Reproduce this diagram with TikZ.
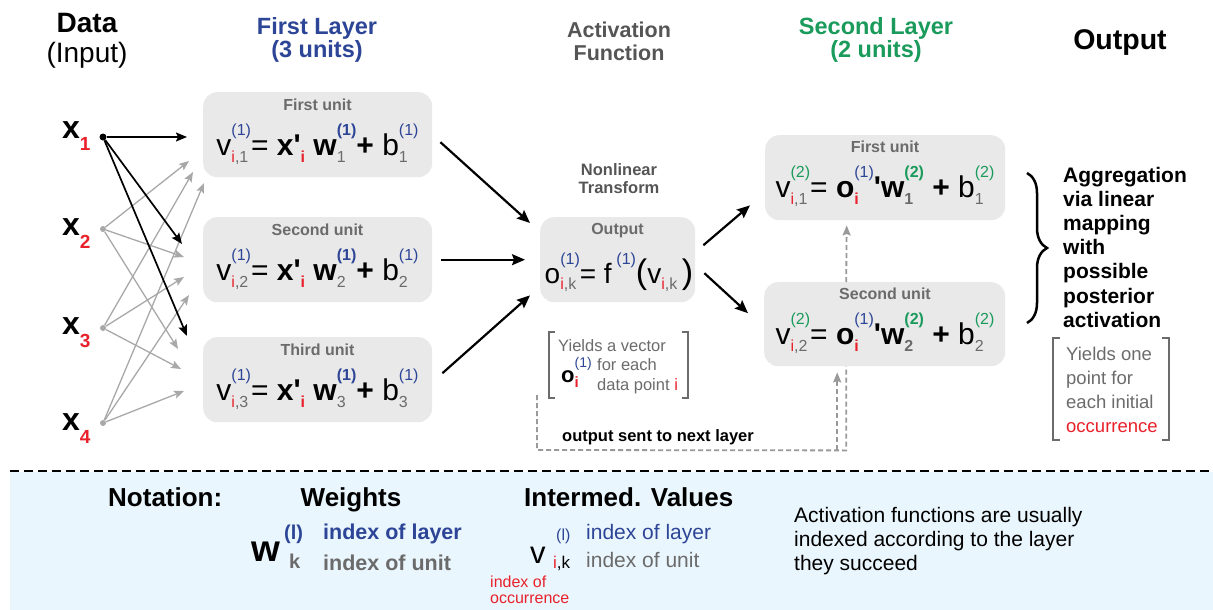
\documentclass[tikz,border=0pt]{standalone}
\usepackage{fontspec}
\setmainfont{Liberation Sans}
\newfontfamily\apf{Liberation Sans}
\usetikzlibrary{arrows.meta,decorations.pathreplacing}
\definecolor{cblue}{HTML}{2D4596}
\definecolor{cgreen}{HTML}{1A9B5C}
\definecolor{cred}{HTML}{E8212B}
\definecolor{cgray}{HTML}{6B6B6B}
\definecolor{hgray}{HTML}{555555}
\definecolor{boxfill}{HTML}{E9E9E9}
\definecolor{notebg}{HTML}{EAF6FD}
\definecolor{agray}{HTML}{A8A8A8}
\definecolor{dgray}{HTML}{999999}
\newcommand{\fsz}[1]{\fontsize{#1}{#1}\selectfont}
\newcommand{\ssz}{\fsz{16}}
\newcommand{\supsub}[2]{\setbox1=\hbox{{#1}}\setbox2=\hbox{{#2}}%
  \ifdim\wd1>\wd2\relax\dimen0=\wd1\else\dimen0=\wd2\fi
  \rlap{\raisebox{0.66em}{\copy1}}\rlap{\raisebox{-0.24em}{\copy2}}\kern\dimen0\relax}
\newcommand{\apos}{{\apf\bfseries '}}
\newcommand{\eqone}[1]{v\supsub{\ssz\color{cblue}(1)}{\ssz\textcolor{cred}{i}\textcolor{cgray}{,#1}}= \textbf{x\apos}\supsub{}{\ssz\bfseries\color{cred}i} \textbf{w}\supsub{\ssz\bfseries\color{cblue}(1)}{\ssz\color{cgray}#1}\textbf{+} b\supsub{\ssz\color{cblue}(1)}{\ssz\color{cgray}#1}}
\newcommand{\eqtwo}[1]{v\supsub{\ssz\color{cgreen}(2)}{\ssz\textcolor{cred}{i}\textcolor{cgray}{,#1}}= \textbf{o}\supsub{\ssz\color{cblue}(1)}{\ssz\bfseries\color{cred}i}\textbf{\apos w}\supsub{\ssz\bfseries\color{cgreen}(2)}{\ssz\bfseries\color{cgray}#1} \textbf{+} b\supsub{\ssz\color{cgreen}(2)}{\ssz\color{cgray}#1}}
\newcommand{\eqout}{o\supsub{\ssz\color{cblue}(1)}{\ssz\textcolor{cred}{i}\textcolor{cgray}{,k}}= f\,\supsub{\ssz\color{cblue}(1)}{}{\fsz{34}(}v\supsub{}{\ssz\textcolor{cred}{i}\textcolor{cgray}{,k}}\,{\fsz{34})}}
\begin{document}
\begin{tikzpicture}[x=1pt,y=-1pt,
  box/.style={fill=boxfill, rounded corners=14pt, draw=none, inner sep=0pt, anchor=north west},
  ulabel/.style={font=\fsz{16}\bfseries, text=cgray, inner sep=0pt},
  eqn/.style={font=\fsz{30}, inner sep=0pt, anchor=base},
  head/.style={inner sep=0pt, anchor=base},
  txt/.style={inner sep=0pt, anchor=base west},
  blk/.style={line width=2.2pt, -{Stealth[length=13pt,width=11pt,inset=2pt]}},
  bthin/.style={line width=1.7pt, black, -{Stealth[length=11pt,width=9pt,inset=2pt]}},
  gry/.style={line width=1.3pt, agray, -{Stealth[length=10pt,width=8pt,inset=2pt]}},
  gdash/.style={line width=1.8pt, dgray, dash pattern=on 5pt off 3pt},
  brk/.style={line width=1.4pt, cgray},
  dot/.style={circle, inner sep=0pt, minimum size=7pt},
]
\useasboundingbox (0,0) rectangle (1213,610);
% notation background
\fill[notebg] (10,472) rectangle (1213,610);
\draw[line width=2.5pt, dash pattern=on 9pt off 5pt] (10,471) -- (1213,471);

% headings
\node[head, font=\fsz{28}\bfseries] (hdata) at (87,33) {Data};
\node[head, font=\fsz{28}] (hinput) at (87,63) {(Input)};
\node[head, font=\fsz{23.5}\bfseries, text=cblue] (hfl1) at (317,35) {First Layer};
\node[head, font=\fsz{23.5}\bfseries, text=cblue] (hfl2) at (317,58) {(3 units)};
\node[head, font=\fsz{21.5}\bfseries, text=hgray] (haf1) at (619,38) {Activation};
\node[head, font=\fsz{21.5}\bfseries, text=hgray] (haf2) at (619,60) {Function};
\node[head, font=\fsz{23.5}\bfseries, text=cgreen] (hsl1) at (876,35) {Second Layer};
\node[head, font=\fsz{23.5}\bfseries, text=cgreen] (hsl2) at (876,58) {(2 units)};
\node[head, font=\fsz{28.5}\bfseries] (hout) at (1120,50) {Output};

% inputs
\node[dot, fill=black] (d1) at (103,137) {};
\node[dot, fill=agray, minimum size=6pt] (d2) at (103,229) {};
\node[dot, fill=agray, minimum size=6pt] (d3) at (103,328) {};
\node[dot, fill=agray, minimum size=6pt] (d4) at (103,423) {};
\node[txt, font=\fsz{32}\bfseries] (x1) at (62,138) {x\raisebox{-13pt}{\fsz{19}\color{cred}1}};
\node[txt, font=\fsz{32}\bfseries] (x2) at (62,235) {x\raisebox{-13pt}{\fsz{19}\color{cred}2}};
\node[txt, font=\fsz{32}\bfseries] (x3) at (62,334) {x\raisebox{-13pt}{\fsz{19}\color{cred}3}};
\node[txt, font=\fsz{32}\bfseries] (x4) at (62,430) {x\raisebox{-13pt}{\fsz{19}\color{cred}4}};

\coordinate (t11) at (187,137);
\coordinate (t12) at (182,244);
\coordinate (t13) at (187,336);
\coordinate (t21) at (189,161);
\coordinate (t31) at (193,172);
\coordinate (t41) at (204,183);
\coordinate (t22) at (184,257);
\coordinate (t32) at (184,277);
\coordinate (t42) at (189,295);
\coordinate (t23) at (178,349);
\coordinate (t33) at (181,369);
\coordinate (t43) at (184,391);

\draw[gry] (d2) -- (t21);
\draw[gry] (d3) -- (t31);
\draw[gry] (d4) -- (t41);
\draw[gry] (d2) -- (t22);
\draw[gry] (d3) -- (t32);
\draw[gry] (d4) -- (t42);
\draw[gry] (d2) -- (t23);
\draw[gry] (d3) -- (t33);
\draw[gry] (d4) -- (t43);
\draw[bthin] (d1) -- (t11);
\draw[bthin] (d1) -- (t12);
\draw[bthin] (d1) -- (t13);

% first layer
\node[box, minimum width=229pt, minimum height=85pt] (u1) at (203,92) {};
\node[box, minimum width=229pt, minimum height=85pt] (u2) at (203,217) {};
\node[box, minimum width=229pt, minimum height=85pt] (u3) at (203,337) {};
\node[ulabel] (u1l) at (317.5,105) {First unit};
\node[ulabel] (u2l) at (317.5,230) {Second unit};
\node[ulabel] (u3l) at (317.5,350) {Third unit};
\node[eqn] (u1e) at (317.5,155) {\eqone{1}};
\node[eqn] (u2e) at (317.5,280) {\eqone{2}};
\node[eqn] (u3e) at (317.5,400) {\eqone{3}};

% activation
\node[head, font=\fsz{16.5}\bfseries, text=hgray] (nl1) at (619,175) {Nonlinear};
\node[head, font=\fsz{16.5}\bfseries, text=hgray] (nl2) at (619,193) {Transform};
\node[box, minimum width=155pt, minimum height=85pt] (ob) at (540,217) {};
\node[ulabel] (obl) at (617.5,231) {Output};
\node[eqn, font=\fsz{28}] (obe) at (619,283) {\eqout};

\draw[brk] (555,332) -- (549,332) -- (549,398) -- (555,398);
\draw[brk] (682,332) -- (688,332) -- (688,398) -- (682,398);
\node[txt, font=\fsz{16.5}, text=cgray] (yv1) at (558,351) {Yields a vector};
\node[txt, font=\fsz{16.5}, text=cgray] (yv2) at (597,370) {for each};
\node[txt, font=\fsz{16.5}, text=cgray] (yv3) at (597,390) {data point \textcolor{cred}{i}};
\node[txt, font=\fsz{22}] (yvo) at (561,382) {\textbf{o}\supsub{\fsz{14}\color{cblue}(1)}{\fsz{15}\bfseries\color{cred}i}};

% second layer
\node[box, minimum width=240pt, minimum height=85pt] (s1) at (765,135) {};
\node[box, minimum width=241pt, minimum height=84pt] (s2) at (764,282) {};
\node[ulabel] (s1l) at (885,147) {First unit};
\node[ulabel] (s2l) at (885,294) {Second unit};
\node[eqn] (s1e) at (885,197) {\eqtwo{1}};
\node[eqn] (s2e) at (885,344) {\eqtwo{2}};

% main arrows
\draw[blk] ([shift={(8,7.5)}]u1.east) -- ([shift={(-10,6)}]ob.north west);
\draw[blk] ([shift={(9,0)}]u2.east) -- ([shift={(-15,0)}]ob.west);
\draw[blk] ([shift={(10,-6.5)}]u3.east) -- ([shift={(-10,-7)}]ob.south west);
\draw[blk] ([shift={(8,-14.5)}]ob.east) -- ([shift={(-15,-15)}]s1.south west);
\draw[blk] ([shift={(9,13.5)}]ob.east) -- ([shift={(-16,-11)}]s2.west);

% dashed feedback
\coordinate (dstart) at (537,395);
\draw[gdash] (dstart) -- (537,450) -- ([shift={(-38.5,84)}]s2.south) -- ([shift={(-38.5,0)}]s2.south);
\draw[gdash, -{Stealth[length=10pt,width=8pt,inset=1.5pt]}] ([shift={(-47.5,84)}]s2.south) -- ([shift={(-47.5,6)}]s2.south);
\draw[gdash, -{Stealth[length=10pt,width=8pt,inset=1.5pt]}] ([shift={(-38.5,0)}]s2.north) -- ([shift={(-38.5,5)}]s1.south);
\node[txt, font=\fsz{16.5}\bfseries] (osnl) at (562,441) {output sent to next layer};

% output side
\draw[line width=2.5pt, decorate, decoration={brace, amplitude=20pt}] (1027,173) -- (1027,323);
\foreach \t [count=\k] in {Aggregation, via linear, mapping, with, possible, posterior, activation}
  \node[txt, font=\fsz{21}\bfseries] (agg\k) at (1063, {182+(\k-1)*24.2}) {\t};
\draw[brk] (1060,338) -- (1053,338) -- (1053,440) -- (1060,440);
\draw[brk] (1162,338) -- (1169,338) -- (1169,440) -- (1162,440);
\node[txt, font=\fsz{18.5}, text=cgray] (yo1) at (1066,360) {Yields one};
\node[txt, font=\fsz{18.5}, text=cgray] (yo2) at (1066,384) {point for};
\node[txt, font=\fsz{18.5}, text=cgray] (yo3) at (1066,408) {each initial};
\node[txt, font=\fsz{18.5}, text=cred] (yo4) at (1066,432) {occurrence};

% notation
\node[txt, font=\fsz{26}\bfseries] (nt) at (108,506) {Notation:};
\node[head, font=\fsz{26}\bfseries] (nw) at (351,506) {Weights};
\node[txt, font=\fsz{26}\bfseries] (ni) at (524,506) {Intermed. Values};
\node[txt, font=\fsz{37}\bfseries] (wsym) at (251,561) {w};
\node[txt, font=\fsz{20}\bfseries, text=cblue] (wl) at (284,539) {(l)};
\node[txt, font=\fsz{20}\bfseries, text=cgray] (wk) at (289,568) {k};
\node[txt, font=\fsz{21.5}\bfseries, text=cblue] (wil) at (323,539) {index of layer};
\node[txt, font=\fsz{21.5}\bfseries, text=cgray] (wiu) at (323,570) {index of unit};
\node[txt, font=\fsz{31}] (vsym) at (530,563) {v};
\node[txt, font=\fsz{16}, text=cblue] (vl) at (556,540) {(l)};
\node[txt, font=\fsz{17}] (vik) at (553,568) {\textcolor{cred}{i},k};
\node[txt, font=\fsz{21}, text=cblue] (vil) at (586,539) {index of layer};
\node[txt, font=\fsz{21}, text=cgray] (viu) at (586,567) {index of unit};
\node[txt, font=\fsz{16}, text=cred] (vio1) at (490,587) {index of};
\node[txt, font=\fsz{16}, text=cred] (vio2) at (490,603) {occurrence};
\node[txt, font=\fsz{21}] (af1) at (794,522) {Activation functions are usually};
\node[txt, font=\fsz{21}] (af2) at (794,546) {indexed according to the layer};
\node[txt, font=\fsz{21}] (af3) at (794,570) {they succeed};
\end{tikzpicture}
\end{document}
